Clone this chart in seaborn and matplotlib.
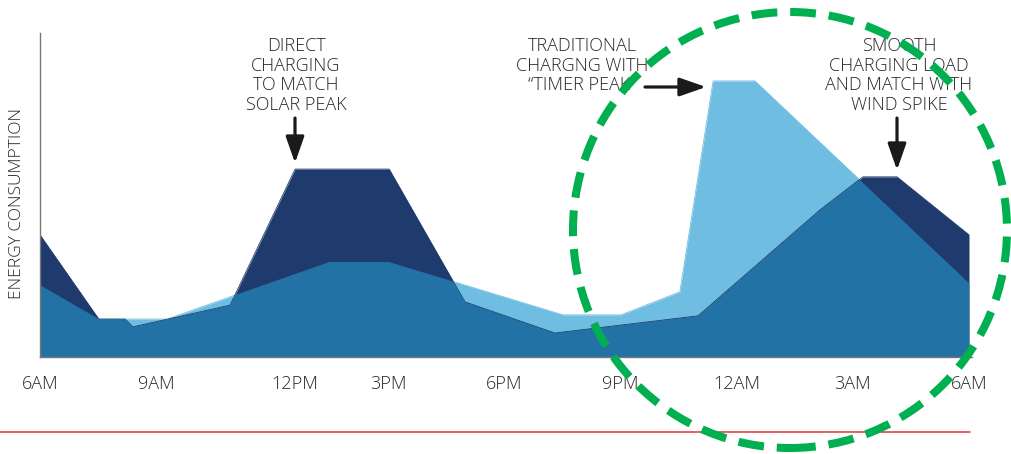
import numpy as np
import pandas as pd
import matplotlib
matplotlib.use("Agg")
import matplotlib.pyplot as plt
from matplotlib.patches import Ellipse
from matplotlib.lines import Line2D
import seaborn as sns

# ---- data (hours after 6AM, relative energy consumption 0-100) ----
smart_hours = [0.0, 1.52, 2.2, 2.4, 4.91, 6.59, 9.02, 10.98, 13.3, 17.0, 20.15, 21.26, 22.14, 24.0]
smart_energy = [37.7, 11.7, 11.7, 9.3, 16.0, 58.0, 58.0, 17.0, 7.4, 12.7, 45.4, 55.6, 55.6, 37.7]

timer_hours = [0.0, 1.52, 3.28, 7.47, 9.02, 13.51, 15.01, 16.53, 17.39, 18.47, 24.0]
timer_energy = [22.2, 11.7, 11.7, 29.3, 29.3, 13.0, 13.0, 20.1, 85.2, 85.2, 22.8]

tick_hours = [0, 3, 6.59, 9, 12, 15, 18, 21, 24]
tick_labels = ["6AM", "9AM", "12PM", "3PM", "6PM", "9PM", "12AM", "3AM", "6AM"]

annot_solar = "DIRECT\nCHARGING\nTO MATCH\nSOLAR PEAK"
annot_timer = "TRADITIONAL\nCHARGNG WITH\n\u201cTIMER PEAK\u201d"
annot_wind = "SMOOTH\nCHARGING LOAD\nAND MATCH WITH\nWIND SPIKE"
y_label = "ENERGY CONSUMPTION"

DARK = "#1f3b6d"
LIGHT = "#70bde2"
MID = "#2272a5"
TXT = "#262626"

sns.set_theme(style="white")
plt.rcParams["font.family"] = ["Open Sans", "DejaVu Sans"]

W, H = 1011, 454
fig = plt.figure(figsize=(W / 100, H / 100), dpi=100)
ax = fig.add_axes([40 / W, (H - 357) / H, (972 - 40) / W, 324 / H])

df_smart = pd.DataFrame({"hour": smart_hours, "energy": smart_energy})
df_timer = pd.DataFrame({"hour": timer_hours, "energy": timer_energy})

light_poly = ax.fill_between(df_timer["hour"], df_timer["energy"], color=LIGHT, lw=0, zorder=1)
ax.fill_between(df_smart["hour"], df_smart["energy"], color=DARK, lw=0, zorder=2)
mid = ax.fill_between(df_smart["hour"], df_smart["energy"], color=MID, lw=0, zorder=3)
mid.set_clip_path(light_poly.get_paths()[0], ax.transData)

sns.lineplot(data=df_timer, x="hour", y="energy", color=LIGHT, lw=0.6, ax=ax, zorder=1.5,
             estimator=None, sort=False)
sns.lineplot(data=df_smart, x="hour", y="energy", color=DARK, lw=0.6, ax=ax, zorder=2.5,
             estimator=None, sort=False)

ax.set_xlim(0, 24 + 3 / 38.71)
ax.set_ylim(0, 100)
ax.set_xticks(tick_hours)
ax.set_xticklabels(tick_labels, fontsize=13, color=TXT, fontweight="light")
ax.set_yticks([])
ax.set_xlabel("")
ax.set_ylabel(y_label, fontsize=12.5, color=TXT, fontweight="light")
ax.yaxis.set_label_coords(-0.016, 0.475)
ax.tick_params(axis="x", direction="out", length=5, width=1, color="#888888", pad=8)
for s in ["top", "right"]:
    ax.spines[s].set_visible(False)
for s in ["left", "bottom"]:
    ax.spines[s].set_color("#777777")
    ax.spines[s].set_linewidth(1.0)
    ax.spines[s].set_zorder(5)

def fp(x, y):
    return (x / W, 1 - y / H)

for txt, (x, y) in [(annot_solar, (296, 75.5)), (annot_timer, (582, 65.5)), (annot_wind, (899, 75.5))]:
    fig.text(*fp(x, y), txt, ha="center", va="center", fontsize=13, color=TXT,
             linespacing=1.1, fontweight="light")

arrow_kw = dict(arrowstyle="-|>,head_length=0.8,head_width=0.28", lw=2.3, color="#1a1a1a",
                mutation_scale=20, shrinkA=0, shrinkB=0)
ax.annotate("", xy=fp(295, 163), xytext=fp(295, 118), xycoords="figure fraction",
            textcoords="figure fraction", arrowprops=arrow_kw)
ax.annotate("", xy=fp(706, 87), xytext=fp(645, 87), xycoords="figure fraction",
            textcoords="figure fraction", arrowprops=arrow_kw)
ax.annotate("", xy=fp(897, 170), xytext=fp(897, 118), xycoords="figure fraction",
            textcoords="figure fraction", arrowprops=arrow_kw)

# red rule at bottom
fig.add_artist(Line2D([0, 970 / W], [1 - 432 / H] * 2, transform=fig.transFigure,
                      color="#e0474c", lw=1.2))

# green dashed circle
circ = Ellipse(fp(790, 230), 434 / W, 436 / H, transform=fig.transFigure, fill=False,
               edgecolor="#00b050", lw=5.8, linestyle=(0, (3.2, 1.6)), zorder=10)
fig.add_artist(circ)

fig.savefig("out.png", dpi=100)
